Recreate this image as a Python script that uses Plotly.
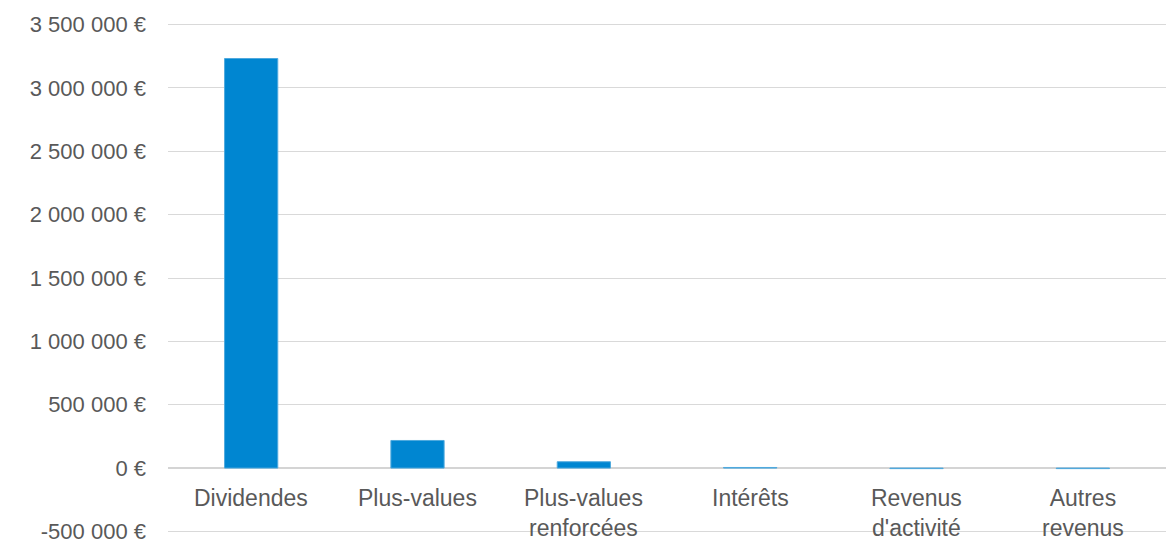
import plotly.graph_objects as go

categories = ["Dividendes", "Plus-values", "Plus-values renforcées", "Intérêts",
              "Revenus d'activité", "Autres revenus"]
category_labels = ["Dividendes", "Plus-values", "Plus-values<br>renforcées", "Intérêts",
                   "Revenus<br>d'activité", "Autres<br>revenus"]
values = [3232000, 218000, 50000, 5000, -4000, -4000]
tick_values = [-500000, 0, 500000, 1000000, 1500000, 2000000, 2500000, 3000000, 3500000]
tick_labels = ["-500 000 €", "0 €", "500 000 €", "1 000 000 €", "1 500 000 €",
               "2 000 000 €", "2 500 000 €", "3 000 000 €", "3 500 000 €"]

FONT = "Liberation Sans, Arial, sans-serif"
TXT = "#595959"

fig = go.Figure()
fig.add_trace(go.Bar(
    x=categories, y=values,
    marker=dict(color="#0086D1", line=dict(color="#4FA9DE", width=1)),
    width=0.32,
))

for cat, lab in zip(categories, category_labels):
    fig.add_annotation(x=cat, y=0, xref="x", yref="y", text=lab, showarrow=False,
                       yanchor="top", yshift=-15,
                       font=dict(family=FONT, size=23, color=TXT))

fig.update_layout(
    width=1166, height=542,
    margin=dict(l=168, r=0, t=22, b=8, autoexpand=False),
    paper_bgcolor="white", plot_bgcolor="white",
    showlegend=False,
    font=dict(family=FONT, size=22, color=TXT),
)
fig.update_xaxes(showticklabels=False, showgrid=False, showline=False,
                 range=[-0.5, 5.5], zeroline=False)
fig.update_yaxes(range=[-520000, 3520000], tickvals=tick_values, ticktext=tick_labels,
                 showgrid=True, gridcolor="#D9D9D9", gridwidth=1,
                 zeroline=True, zerolinecolor="#D4D4D4", zerolinewidth=2,
                 showline=False, ticklabelstandoff=21, automargin=False,
                 ticklabeloverflow="allow",
                 tickfont=dict(family=FONT, size=22, color=TXT))

fig.write_html(
    "out.html",
    config={"displayModeBar": False},
    post_script="document.body.style.margin='0';document.body.style.overflow='hidden';",
)
